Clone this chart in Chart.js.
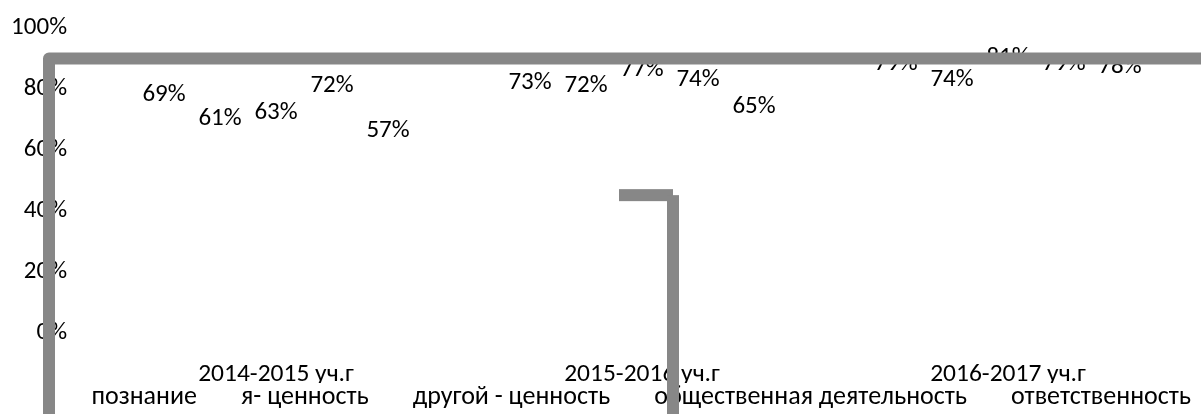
<!DOCTYPE html>
<html lang="ru">
<head>
  <meta charset="UTF-8" />
  <title>Результаты по годам</title>
  <script src="https://cdn.jsdelivr.net/npm/chart.js"></script>
  <style>
    body { margin: 0; background: #fff; }
    canvas { display: block; }
  </style>
</head>
<body>
<canvas id="chart" width="1201" height="414"></canvas>
<script>
  // учебные годы
  const categories = ['2014-2015 уч.г', '2015-2016 уч.г', '2016-2017 уч.г'];
  const seriesNames = ['познание', 'я- ценность', 'другой - ценность', 'общественная деятельность', 'ответственность'];

  // значения, %
  const poznanie = [69, 73, 79];
  const yaCennost = [61, 72, 74];
  const drugoyCennost = [63, 77, 81];
  const obshchDeyat = [72, 74, 79];
  const otvetstv = [57, 65, 78];

  const yTicks = [0, 20, 40, 60, 80, 100];

  const FONT = '"Carlito", "Lato", sans-serif';
  const FSIZE = 25;
  const seriesData = [poznanie, yaCennost, drugoyCennost, obshchDeyat, otvetstv];

  // подписи над столбцами
  const valueLabels = {
    id: 'valueLabels',
    afterDatasetsDraw(chart) {
      const ctx = chart.ctx;
      ctx.save();
      ctx.font = FSIZE + 'px ' + FONT;
      ctx.fillStyle = '#000';
      ctx.textAlign = 'center';
      ctx.textBaseline = 'middle';
      chart.data.datasets.forEach((ds, i) => {
        chart.getDatasetMeta(i).data.forEach((bar, j) => {
          ctx.fillText(ds.data[j] + '%', bar.x, bar.y - 28);
        });
      });
      ctx.restore();
    }
  };

  // серая рамка поверх (как в исходной картинке)
  const grayFrame = {
    id: 'grayFrame',
    afterDraw(chart) {
      const ctx = chart.ctx;
      const y = chart.scales.y;
      const top = y.getPixelForValue(90);
      const mid = y.getPixelForValue(45.2);
      ctx.save();
      ctx.strokeStyle = '#878787';
      ctx.fillStyle = '#878787';
      ctx.lineWidth = 12;
      ctx.lineJoin = 'round';
      ctx.beginPath();
      ctx.moveTo(49, chart.height + 10);
      ctx.lineTo(49, top);
      ctx.lineTo(chart.width + 10, top);
      ctx.stroke();
      ctx.fillRect(619, mid - 6, 54, 12);
      ctx.fillRect(667, mid, 12, chart.height - mid);
      ctx.restore();
    }
  };

  new Chart(document.getElementById('chart'), {
    type: 'bar',
    data: {
      labels: categories,
      datasets: seriesNames.map((name, i) => ({
        label: name,
        data: seriesData[i],
        backgroundColor: 'rgba(0,0,0,0)',
        borderWidth: 0,
        categoryPercentage: 0.765,
        barPercentage: 1
      }))
    },
    options: {
      responsive: false,
      animation: false,
      layout: { padding: { left: 8, right: -31, top: 28, bottom: -6.5 } },
      scales: {
        x: {
          grid: { display: false, drawTicks: false },
          border: { display: false },
          afterFit(scale) { scale.height = 50; },
          ticks: { color: '#000', font: { family: FONT, size: 25.5, lineHeight: 1 }, padding: 28.75 }
        },
        y: {
          min: 0,
          max: 100,
          grid: { display: false, drawTicks: false },
          border: { display: false },
          afterBuildTicks(scale) {
            scale.ticks = yTicks.map(v => ({ value: v }));
          },
          afterFit(scale) {
            scale.width = 85;
            scale.paddingTop = 0;
            scale.paddingBottom = 0;
          },
          ticks: {
            color: '#000',
            font: { family: FONT, size: FSIZE },
            padding: 26,
            callback: v => v + '%'
          }
        },
        yRight: {
          position: 'right',
          grid: { display: false, drawTicks: false },
          border: { display: false },
          ticks: { display: false },
          afterFit(scale) { scale.width = 41; }
        }
      },
      plugins: {
        legend: {
          position: 'bottom',
          labels: {
            color: '#000',
            font: { family: FONT, size: 26 },
            boxWidth: 29.5,
            boxHeight: 12,
            padding: 1.5
          }
        },
        tooltip: { enabled: false }
      }
    },
    plugins: [valueLabels, grayFrame]
  });
</script>
</body>
</html>
